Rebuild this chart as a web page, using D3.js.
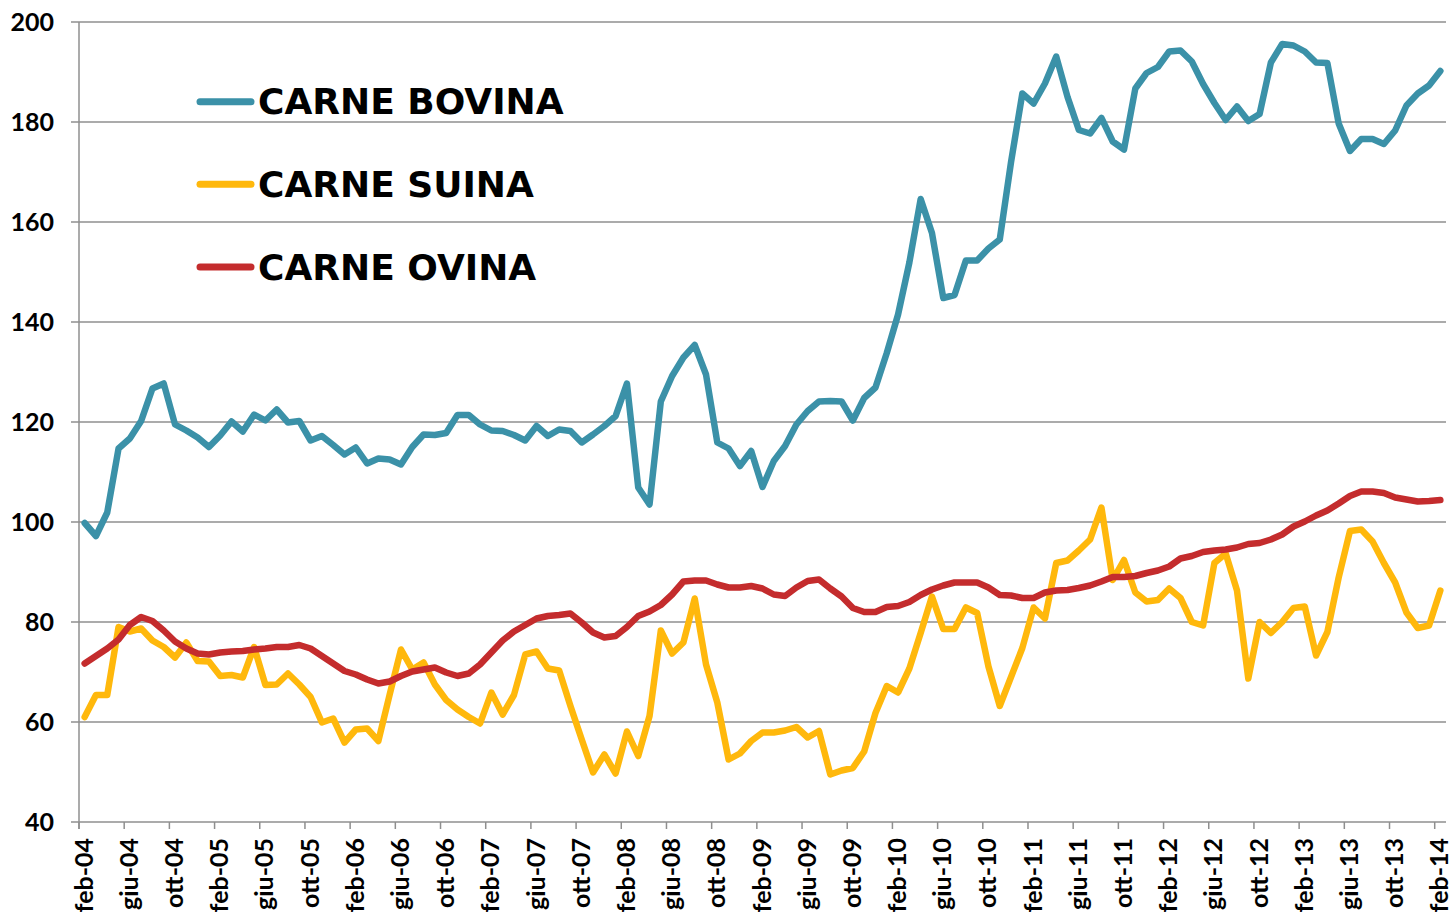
<!DOCTYPE html>
<html>
<head>
<meta charset="utf-8">
<script src="https://cdn.jsdelivr.net/npm/d3@7"></script>
<style>
  body { margin: 0; background: #fff; }
  svg { display: block; }
  .tick-label { font-family: Lato, 'DejaVu Sans', sans-serif; font-weight: bold; fill: #000; }
  .legend-label { font-family: 'DejaVu Sans', sans-serif; font-weight: bold; fill: #000; }
</style>
</head>
<body>
<div id="chart"></div>
<script>
// tick labels, one every 4 months (feb-04 .. feb-14)
const tickLabels = [
  'feb-04', 'giu-04', 'ott-04', 'feb-05', 'giu-05', 'ott-05', 'feb-06', 'giu-06',
  'ott-06', 'feb-07', 'giu-07', 'ott-07', 'feb-08', 'giu-08', 'ott-08', 'feb-09',
  'giu-09', 'ott-09', 'feb-10', 'giu-10', 'ott-10', 'feb-11', 'giu-11', 'ott-11',
  'feb-12', 'giu-12', 'ott-12', 'feb-13', 'giu-13', 'ott-13', 'feb-14'
];
const yTicks = [40, 60, 80, 100, 120, 140, 160, 180, 200];

const seriesNames = ['CARNE BOVINA', 'CARNE SUINA', 'CARNE OVINA'];
const seriesColors = ['#3b91a8', '#ffb80c', '#c42c2d'];

// monthly index values, feb-04 .. feb-14
const bovina = [
  99.8, 97.2, 101.9, 114.7, 116.7, 120.2, 126.7, 127.7, 119.5, 118.3, 116.9, 115.0,
  117.3, 120.1, 118.1, 121.5, 120.3, 122.5, 119.9, 120.2, 116.3, 117.2, 115.4, 113.5,
  114.9, 111.7, 112.7, 112.5, 111.5, 115.0, 117.5, 117.4, 117.8, 121.4, 121.4, 119.5,
  118.3, 118.2, 117.4, 116.3, 119.2, 117.2, 118.5, 118.2, 115.9, 117.5, 119.2, 121.2,
  127.7, 106.9, 103.5, 124.1, 129.2, 132.9, 135.4, 129.5, 115.9, 114.7, 111.2, 114.2,
  107.0, 112.2, 115.2, 119.5, 122.2, 124.1, 124.2, 124.1, 120.3, 124.8, 126.9, 133.8,
  141.5, 151.9, 164.6, 157.8, 144.8, 145.4, 152.3, 152.3, 154.7, 156.5, 172.0, 185.7,
  183.7, 187.7, 193.1, 185.0, 178.4, 177.7, 180.8, 176.1, 174.5, 186.7, 189.8, 191.0,
  194.1, 194.3, 192.1, 187.6, 183.8, 180.4, 183.1, 180.2, 181.6, 191.9, 195.6, 195.3,
  194.1, 191.9, 191.8, 179.7, 174.2, 176.6, 176.6, 175.6, 178.3, 183.3, 185.7, 187.3,
  190.2
];
const suina = [
  61.0, 65.4, 65.4, 79.0, 78.1, 78.7, 76.3, 75.0, 72.9, 75.9, 72.2, 72.1,
  69.2, 69.4, 68.9, 75.0, 67.4, 67.5, 69.7, 67.5, 65.0, 59.9, 60.7, 55.9,
  58.5, 58.7, 56.2, 65.5, 74.5, 70.5, 71.9, 67.5, 64.4, 62.5, 61.0, 59.7,
  65.9, 61.5, 65.4, 73.5, 74.1, 70.7, 70.3, 63.2, 56.5, 49.9, 53.5, 49.7,
  58.1, 53.2, 61.2, 78.3, 73.7, 75.9, 84.7, 71.5, 63.9, 52.5, 53.7, 56.2,
  57.9, 57.9, 58.3, 59.0, 56.9, 58.2, 49.5, 50.3, 50.8, 54.1, 61.8, 67.2,
  65.9, 70.7, 77.8, 85.1, 78.6, 78.6, 82.9, 81.8, 71.1, 63.2, 69.0, 74.8,
  82.9, 80.7, 91.8, 92.3, 94.3, 96.5, 102.9, 88.4, 92.4, 85.9, 84.1, 84.4,
  86.7, 84.8, 80.0, 79.3, 91.8, 93.7, 86.3, 68.7, 80.0, 77.8, 80.0, 82.8,
  83.1, 73.3, 78.0, 88.9, 98.2, 98.5, 96.1, 91.8, 87.9, 81.9, 78.8, 79.3,
  86.3
];
const ovina = [
  71.7, 73.2, 74.7, 76.5, 79.4, 81.0, 80.2, 78.3, 76.1, 74.7, 73.7, 73.5,
  73.9, 74.1, 74.2, 74.5, 74.7, 75.0, 75.0, 75.4, 74.7, 73.2, 71.7, 70.2,
  69.5, 68.5, 67.7, 68.1, 69.2, 70.1, 70.5, 70.9, 69.9, 69.2, 69.7, 71.5,
  73.9, 76.3, 78.1, 79.4, 80.7, 81.2, 81.4, 81.7, 79.9, 77.9, 76.9, 77.2,
  79.0, 81.2, 82.1, 83.4, 85.5, 88.1, 88.3, 88.3, 87.5, 86.9, 86.9, 87.2,
  86.7, 85.5, 85.2, 86.9, 88.2, 88.5, 86.7, 85.1, 82.8, 82.0, 82.0, 83.0,
  83.2, 84.0, 85.4, 86.5, 87.3, 87.9, 87.9, 87.9, 86.9, 85.4, 85.3, 84.8,
  84.8, 85.9, 86.3, 86.4, 86.8, 87.3, 88.1, 89.0, 89.0, 89.2, 89.8, 90.3,
  91.1, 92.7, 93.2, 94.0, 94.3, 94.5, 94.9, 95.6, 95.8, 96.5, 97.5, 99.1,
  100.1, 101.3, 102.3, 103.7, 105.2, 106.1, 106.1, 105.8, 104.9, 104.5, 104.1, 104.2,
  104.4
];

const series = [bovina, suina, ovina];

const width = 1452;
const height = 915;
const margin = { top: 22, right: 6, bottom: 93, left: 79 };

const svg = d3.select('#chart')
  .append('svg')
  .attr('width', width)
  .attr('height', height);

const months = d3.range(bovina.length);

const xScale = d3.scaleBand()
  .domain(months)
  .range([margin.left, width - margin.right])
  .padding(0);

const yScale = d3.scaleLinear()
  .domain([40, 200])
  .range([height - margin.bottom, margin.top]);

// horizontal gridlines + y ticks
svg.append('g')
  .selectAll('line')
  .data(yTicks)
  .enter()
  .append('line')
  .attr('x1', margin.left - 8)
  .attr('x2', width - margin.right)
  .attr('y1', d => yScale(d))
  .attr('y2', d => yScale(d))
  .attr('stroke', '#8f8f8f')
  .attr('stroke-width', 1.5);

// y axis line
svg.append('line')
  .attr('x1', margin.left)
  .attr('x2', margin.left)
  .attr('y1', yScale(200))
  .attr('y2', yScale(40) + 7)
  .attr('stroke', '#8f8f8f')
  .attr('stroke-width', 1.5);

svg.append('g')
  .selectAll('text')
  .data(yTicks)
  .enter()
  .append('text')
  .attr('class', 'tick-label')
  .attr('x', 54)
  .attr('y', d => yScale(d))
  .attr('dy', '0.36em')
  .attr('text-anchor', 'end')
  .style('font-size', '25px')
  .text(d => d);

// x ticks every 4 months, on category boundaries
const tickIdx = tickLabels.map((d, i) => i * 4);

svg.append('g')
  .selectAll('line')
  .data(tickIdx)
  .enter()
  .append('line')
  .attr('x1', d => xScale(d))
  .attr('x2', d => xScale(d))
  .attr('y1', yScale(40))
  .attr('y2', yScale(40) + 7)
  .attr('stroke', '#8f8f8f')
  .attr('stroke-width', 1.5);

svg.append('g')
  .selectAll('text')
  .data(tickIdx)
  .enter()
  .append('text')
  .attr('class', 'tick-label')
  .attr('transform', d => `translate(${xScale(d) + xScale.bandwidth() / 2 - 1}, ${yScale(40) + 16}) rotate(-90)`)
  .attr('dy', '0.36em')
  .attr('text-anchor', 'end')
  .style('font-size', '25px')
  .text((d, i) => tickLabels[i]);

// lines
const line = d3.line()
  .x((d, i) => xScale(i) + xScale.bandwidth() / 2)
  .y(d => yScale(d));

svg.append('g')
  .selectAll('path')
  .data(series)
  .enter()
  .append('path')
  .attr('d', d => line(d))
  .style('fill', 'none')
  .style('stroke', (d, i) => seriesColors[i])
  .style('stroke-width', 6.5)
  .style('stroke-linejoin', 'round')
  .style('stroke-linecap', 'round');

// legend
const legendY = [101.7, 184.3, 267];
const legend = svg.append('g')
  .selectAll('g')
  .data(seriesNames)
  .enter()
  .append('g')
  .attr('transform', (d, i) => `translate(0, ${legendY[i]})`);

legend.append('line')
  .attr('x1', 200)
  .attr('x2', 251)
  .attr('stroke', (d, i) => seriesColors[i])
  .attr('stroke-width', 7)
  .attr('stroke-linecap', 'round');

legend.append('text')
  .attr('class', 'legend-label')
  .attr('x', 258)
  .attr('y', 12.5)
  .style('font-size', '36px')
  .text(d => d);
</script>
</body>
</html>
